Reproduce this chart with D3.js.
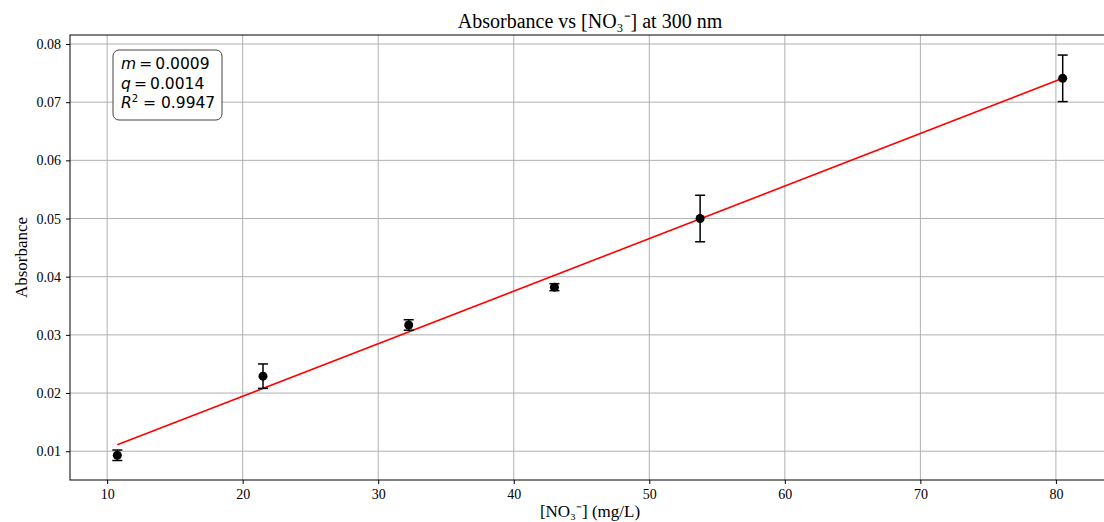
<!DOCTYPE html>
<html>
<head>
<meta charset="utf-8">
<script src="https://cdn.jsdelivr.net/npm/d3@7"></script>
<style>
  body { margin: 0; background: #fff; }
  svg { display: block; }
</style>
</head>
<body>
<div id="chart"></div>
<script>
// Measured data points (concentration, absorbance, error)
const concentrations = [10.75, 21.5, 32.25, 43, 53.75, 80.5];
const absorbances = [0.0093, 0.0229, 0.0317, 0.0382, 0.0500, 0.0741];
const errors = [0.0009, 0.0021, 0.0009, 0.0006, 0.0040, 0.0040];

// Fitted line end points
const fitX = [10.75, 80.5];
const fitY = [0.0111, 0.0741];

const xTicks = [10, 20, 30, 40, 50, 60, 70, 80];
const yTicks = [0.01, 0.02, 0.03, 0.04, 0.05, 0.06, 0.07, 0.08];
const statLines = [
    { sym: 'm', sup: '', val: '0.0009' },
    { sym: 'q', sup: '', val: '0.0014' },
    { sym: 'R', sup: '2', val: '0.9947' }
];

const width = 1104, height = 522;
const margin = { top: 35, right: -6, bottom: 42, left: 70 };
const chartWidth = width - margin.left - margin.right;
const chartHeight = height - margin.top - margin.bottom;

const xScale = d3.scaleLinear().domain([7.26, 83.99]).range([0, chartWidth]);
const yScale = d3.scaleLinear().domain([0.00505, 0.08155]).range([chartHeight, 0]);

const svg = d3.select('#chart')
    .append('svg')
    .attr('width', width)
    .attr('height', height);

const g = svg.append('g')
    .attr('transform', `translate(${margin.left},${margin.top})`);

const serif = '"Liberation Serif", "Times New Roman", serif';

// Grid lines
g.append('g').selectAll('line')
    .data(xTicks)
    .join('line')
    .attr('x1', d => xScale(d)).attr('x2', d => xScale(d))
    .attr('y1', 0).attr('y2', chartHeight)
    .style('stroke', '#b0b0b0').style('stroke-width', 1);

g.append('g').selectAll('line')
    .data(yTicks)
    .join('line')
    .attr('x1', 0).attr('x2', chartWidth)
    .attr('y1', d => yScale(d)).attr('y2', d => yScale(d))
    .style('stroke', '#b0b0b0').style('stroke-width', 1);

// Axes
const xAxis = g.append('g')
    .attr('transform', `translate(0,${chartHeight})`)
    .call(d3.axisBottom(xScale).tickValues(xTicks).tickSize(4).tickPadding(5).tickFormat(d3.format('d')));
const yAxis = g.append('g')
    .call(d3.axisLeft(yScale).tickValues(yTicks).tickSize(4).tickPadding(5).tickFormat(d3.format('.2f')));

[xAxis, yAxis].forEach(ax => {
    ax.select('.domain').remove();
    ax.selectAll('text')
        .style('font-family', serif)
        .style('font-size', '14px')
        .style('fill', '#000');
    ax.selectAll('line').style('stroke', '#000');
});

// Spines
g.append('rect')
    .attr('x', 0).attr('y', 0)
    .attr('width', chartWidth).attr('height', chartHeight)
    .style('fill', 'none')
    .style('stroke', '#000')
    .style('stroke-width', 1);

// Fit line
g.append('line')
    .attr('x1', xScale(fitX[0])).attr('y1', yScale(fitY[0]))
    .attr('x2', xScale(fitX[1])).attr('y2', yScale(fitY[1]))
    .style('stroke', '#ff0000')
    .style('stroke-width', 1.6);

// Error bars and points
const points = concentrations.map((c, i) => ({ x: c, y: absorbances[i], e: errors[i] }));

const bars = g.append('g').selectAll('g')
    .data(points)
    .join('g')
    .style('stroke', '#000')
    .style('stroke-width', 1.5);

bars.append('line')
    .attr('x1', d => xScale(d.x)).attr('x2', d => xScale(d.x))
    .attr('y1', d => yScale(d.y - d.e)).attr('y2', d => yScale(d.y + d.e));
bars.append('line')
    .attr('x1', d => xScale(d.x) - 5).attr('x2', d => xScale(d.x) + 5)
    .attr('y1', d => yScale(d.y + d.e)).attr('y2', d => yScale(d.y + d.e));
bars.append('line')
    .attr('x1', d => xScale(d.x) - 5).attr('x2', d => xScale(d.x) + 5)
    .attr('y1', d => yScale(d.y - d.e)).attr('y2', d => yScale(d.y - d.e));

g.append('g').selectAll('circle')
    .data(points)
    .join('circle')
    .attr('cx', d => xScale(d.x))
    .attr('cy', d => yScale(d.y))
    .attr('r', 4.5)
    .style('fill', '#000');

// Stats box
const box = g.append('g').attr('transform', 'translate(43,15)');
box.append('rect')
    .attr('width', 109).attr('height', 70)
    .attr('rx', 6).attr('ry', 6)
    .style('fill', '#fff')
    .style('stroke', '#444')
    .style('stroke-width', 1);

statLines.forEach((s, i) => {
    const t = box.append('text')
        .attr('x', 8)
        .attr('y', 19 + i * 19.5)
        .style('font-family', '"DejaVu Sans", sans-serif')
        .style('font-size', '15.5px')
        .style('fill', '#000');
    t.append('tspan').style('font-style', 'italic').text(s.sym);
    if (s.sup) {
        t.append('tspan').attr('dy', -6).style('font-size', '10px').text(s.sup);
        t.append('tspan').attr('dy', 6).text(' = ' + s.val);
    } else {
        t.append('tspan').text('\u2009=\u2009' + s.val);
    }
});

// Title and labels
svg.append('text')
    .attr('x', margin.left + chartWidth / 2)
    .attr('y', 28)
    .attr('text-anchor', 'middle')
    .style('font-family', serif)
    .style('font-size', '20px')
    .text('Absorbance vs [NO\u2083\u207B] at 300 nm');

svg.append('text')
    .attr('x', margin.left + chartWidth / 2)
    .attr('y', 517)
    .attr('text-anchor', 'middle')
    .style('font-family', serif)
    .style('font-size', '17px')
    .text('[NO\u2083\u207B] (mg/L)');

svg.append('text')
    .attr('transform', `translate(27,${margin.top + chartHeight / 2}) rotate(-90)`)
    .attr('text-anchor', 'middle')
    .style('font-family', serif)
    .style('font-size', '17px')
    .text('Absorbance');
</script>
</body>
</html>
